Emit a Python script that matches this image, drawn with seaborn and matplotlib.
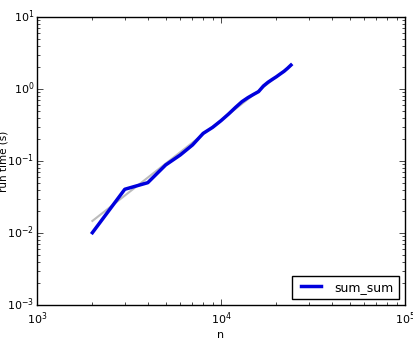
import matplotlib
matplotlib.use("Agg")
import matplotlib.pyplot as plt
import seaborn as sns
import pandas as pd

n_values = [2000, 3000, 4000, 5000, 6000, 7000, 8000, 9000, 10000, 11000, 12000,
            13000, 14000, 15000, 16000, 17000, 18000, 19000, 20000, 21000, 22000,
            23000, 24000]
run_time = [0.0101, 0.0405, 0.050, 0.088, 0.121, 0.167, 0.242, 0.293, 0.363, 0.45,
            0.556, 0.667, 0.758, 0.84, 0.92, 1.10, 1.24, 1.36, 1.48, 1.62, 1.76,
            1.94, 2.15]
fit_n = [2000, 24000]
fit_time = [0.0147, 2.12]

plt.style.use("classic")
plt.rcParams.update({
    "figure.facecolor": "white",
    "savefig.facecolor": "white",
    "font.size": 8,
    "font.family": ["DejaVu Sans"],
    "mathtext.default": "regular",
})

fig = plt.figure(figsize=(4.14, 3.40), dpi=100)
ax = fig.add_axes([37 / 414, 1 - 305 / 340, (405 - 37) / 414, (305 - 17) / 340])

df = pd.DataFrame({"n": n_values, "t": run_time})
fit = pd.DataFrame({"n": fit_n, "t": fit_time})

sns.lineplot(data=fit, x="n", y="t", ax=ax, color="#bbbbbb", linewidth=1.5, legend=False)
sns.lineplot(data=df, x="n", y="t", ax=ax, color="#0000dd", linewidth=2.5, label="sum_sum")

ax.set_xscale("log")
ax.set_yscale("log")
ax.set_xlim(1e3, 1e5)
ax.set_ylim(1e-3, 1e1)
ax.set_xlabel("n", fontsize=8, labelpad=2)
ax.set_ylabel("run time (s)", fontsize=7.5)
ax.yaxis.set_label_coords(-0.077, 0.5)
ax.tick_params(labelsize=8)
ax.tick_params(axis="y", pad=2)
ax.grid(False)
leg = ax.legend(loc="lower right", fontsize=9, fancybox=False, handlelength=2.2)
leg.get_frame().set_edgecolor("black")

fig.savefig("out.png", dpi=100)
